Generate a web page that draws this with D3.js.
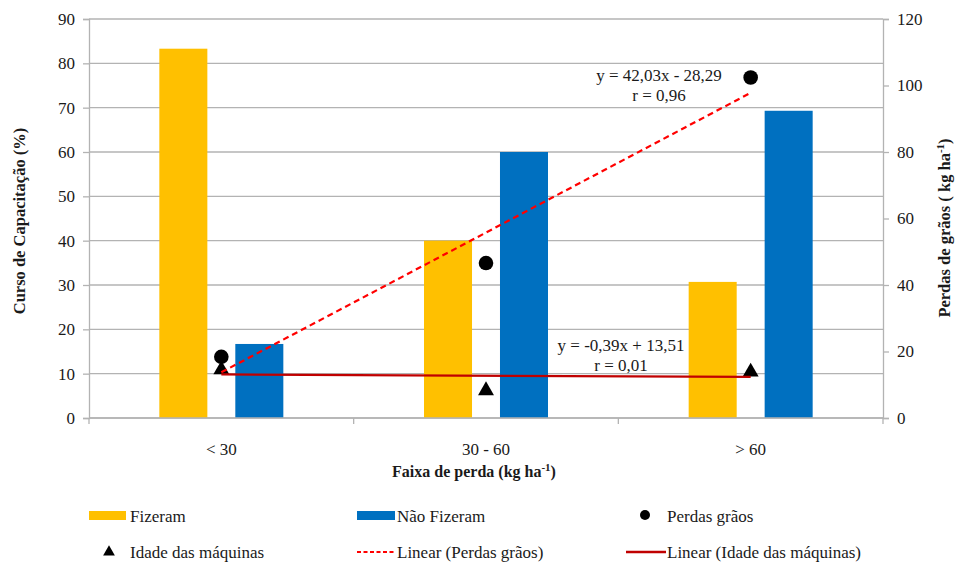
<!DOCTYPE html>
<html><head><meta charset="utf-8">
<script src="https://cdn.jsdelivr.net/npm/d3@7"></script>
<style>body{margin:0;background:#fff}svg, svg text{font-family:"Liberation Serif",Tinos,"Times New Roman","Liberation Sans",sans-serif !important}</style>
</head><body><svg id="c" width="956" height="564"></svg>
<script>
const categories = ["< 30", "30 - 60", "> 60"];
const seriesNames = ["Fizeram", "Não Fizeram"];
const fizeram = [83.3, 40.0, 30.7];
const naoFizeram = [16.7, 60.0, 69.3];
const perdasGraos = [18.4, 46.6, 102.4];
const idadeMaquinas = [15.0, 8.7, 14.3];
const trendPerdas = {slope: 42.03, intercept: -28.29, label: "y = 42,03x - 28,29", r: "r = 0,96"};
const trendIdade = {slope: -0.39, intercept: 13.51, label: "y = -0,39x + 13,51", r: "r = 0,01"};
const leftTicks = [0,10,20,30,40,50,60,70,80,90];
const rightTicks = [0,20,40,60,80,100,120];
const colors = {"Fizeram": "#FFC000", "Não Fizeram": "#0070C0"};

const svg = d3.select("#c");
const L = 89, R = 883, T = 19, B = 418;
const x = d3.scaleBand().domain(categories).range([L, R]);
const xi = d3.scaleBand().domain(seriesNames).range([-62, 62]).paddingInner(0.368);
const yL = d3.scaleLinear().domain([0, 90]).range([B, T]);
const yR = d3.scaleLinear().domain([0, 120]).range([B, T]);
const grid = "#b3b3b3";
const ink = "#1a1a1a";

// gridlines
svg.append("g").selectAll("line").data(leftTicks).join("line")
  .attr("x1", L).attr("x2", R).attr("y1", d => yL(d)).attr("y2", d => yL(d))
  .attr("stroke", grid).attr("stroke-width", 1.3);

// bars
const barData = [];
categories.forEach((c, i) => {
  barData.push({c, s: "Fizeram", v: fizeram[i]});
  barData.push({c, s: "Não Fizeram", v: naoFizeram[i]});
});
svg.append("g").selectAll("rect").data(barData).join("rect")
  .attr("x", d => x(d.c) + x.bandwidth()/2 + xi(d.s))
  .attr("width", xi.bandwidth())
  .attr("y", d => yL(d.v)).attr("height", d => B - yL(d.v))
  .attr("fill", d => colors[d.s]);

// axes
const axL = d3.axisLeft(yL).tickValues(leftTicks).tickSize(6).tickPadding(8);
const gL = svg.append("g").attr("transform", `translate(${L},0)`).call(axL);
const axR = d3.axisRight(yR).tickValues(rightTicks).tickSize(6).tickPadding(8);
const gR = svg.append("g").attr("transform", `translate(${R},0)`).call(axR);
const axB = d3.axisBottom(x).tickSize(0).tickPadding(25);
const gB = svg.append("g").attr("transform", `translate(0,${B})`).call(axB);
const bounds = [L, ...categories.slice(1).map(c => x(c)), R];
gB.selectAll(".bt").data(bounds).join("line").attr("class","bt")
  .attr("x1", d => d).attr("x2", d => d).attr("y1", 0).attr("y2", 6).attr("stroke", grid).attr("stroke-width", 1.3);
[gL, gR, gB].forEach(g => {
  g.attr("font-family", null);
  g.select(".domain").attr("stroke", grid).attr("stroke-width", 1.3);
  g.selectAll(".tick line").attr("stroke", grid).attr("stroke-width", 1.3);
  g.selectAll("text").attr("font-size", 17).attr("fill", ink);
});
gB.select(".domain").attr("d", `M${L},0H${R}`);

// trendlines
const xc = i => x(categories[i]) + x.bandwidth()/2;
const lineR = d3.line().x(d => xc(d[0])).y(d => yR(d[1]));
const tP = [0, 2].map(i => [i, trendPerdas.slope * (i+1) + trendPerdas.intercept]);
const tI = [0, 2].map(i => [i, trendIdade.slope * (i+1) + trendIdade.intercept]);

// markers
svg.append("g").selectAll("circle").data(perdasGraos).join("circle")
  .attr("cx", (d,i) => xc(i)).attr("cy", d => yR(d)).attr("r", 7.3).attr("fill", "#000");
const tri = d3.symbol().type(d3.symbolTriangle).size(110);
svg.append("g").selectAll("path").data(idadeMaquinas).join("path")
  .attr("d", tri).attr("transform", (d,i) => `translate(${xc(i)},${yR(d)+1.5})`).attr("fill", "#000");

svg.append("path").attr("d", lineR(tI)).attr("stroke", "#C00000").attr("stroke-width", 2.2).attr("fill", "none");
svg.append("path").attr("d", lineR(tP)).attr("stroke", "#FF0000").attr("stroke-width", 2.2).attr("stroke-dasharray", "6,4").attr("fill", "none");

// trend labels
const ann = svg.append("g").attr("font-size", 17).attr("fill", ink).attr("text-anchor", "middle");
ann.append("text").attr("x", 659).attr("y", 81).text(trendPerdas.label);
ann.append("text").attr("x", 659).attr("y", 101).text(trendPerdas.r);
ann.append("text").attr("x", 621).attr("y", 351).text(trendIdade.label);
ann.append("text").attr("x", 621).attr("y", 371).text(trendIdade.r);

// axis titles
svg.append("text").attr("transform", "translate(25,221) rotate(-90)")
  .attr("text-anchor", "middle").attr("font-weight", "bold").attr("font-size", 16.5).attr("fill", ink)
  .text("Curso de Capacitação (%)");
const t2 = svg.append("text").attr("transform", "translate(950,228) rotate(-90)")
  .attr("text-anchor", "middle").attr("font-weight", "bold").attr("font-size", 16.5).attr("fill", ink);
t2.append("tspan").text("Perdas de grãos ( kg ha");
t2.append("tspan").attr("font-size", 11).attr("dy", -6).text("-1");
t2.append("tspan").attr("dy", 6).text(")");
const t3 = svg.append("text").attr("x", 474).attr("y", 477)
  .attr("text-anchor", "middle").attr("font-weight", "bold").attr("font-size", 16).attr("fill", ink);
t3.append("tspan").text("Faixa de perda (kg ha");
t3.append("tspan").attr("font-size", 11).attr("dy", -6).text("-1");
t3.append("tspan").attr("dy", 6).text(")");

// legend
const lg = svg.append("g").attr("font-size", 17).attr("fill", ink);
const y1 = 516, y2 = 552;
lg.append("rect").attr("x", 89).attr("y", y1-5).attr("width", 37).attr("height", 9).attr("fill", colors["Fizeram"]);
lg.append("text").attr("x", 130).attr("y", y1).attr("dy", "0.35em").text("Fizeram");
lg.append("rect").attr("x", 357).attr("y", y1-5).attr("width", 38).attr("height", 9).attr("fill", colors["Não Fizeram"]);
lg.append("text").attr("x", 397).attr("y", y1).attr("dy", "0.35em").text("Não Fizeram");
lg.append("circle").attr("cx", 645).attr("cy", y1-1).attr("r", 5).attr("fill", "#000");
lg.append("text").attr("x", 667).attr("y", y1).attr("dy", "0.35em").text("Perdas grãos");
lg.append("path").attr("d", d3.symbol().type(d3.symbolTriangle).size(60)).attr("transform", `translate(109,${y2})`).attr("fill", "#000");
lg.append("text").attr("x", 130).attr("y", y2).attr("dy", "0.35em").text("Idade das máquinas");
lg.append("line").attr("x1", 357).attr("x2", 396).attr("y1", y2).attr("y2", y2).attr("stroke", "#FF0000").attr("stroke-width", 2.2).attr("stroke-dasharray", "4,2.5");
lg.append("text").attr("x", 397).attr("y", y2).attr("dy", "0.35em").text("Linear (Perdas grãos)");
lg.append("line").attr("x1", 626).attr("x2", 666).attr("y1", y2).attr("y2", y2).attr("stroke", "#C00000").attr("stroke-width", 2.5);
lg.append("text").attr("x", 667).attr("y", y2).attr("dy", "0.35em").text("Linear (Idade das máquinas)");
</script></body></html>
